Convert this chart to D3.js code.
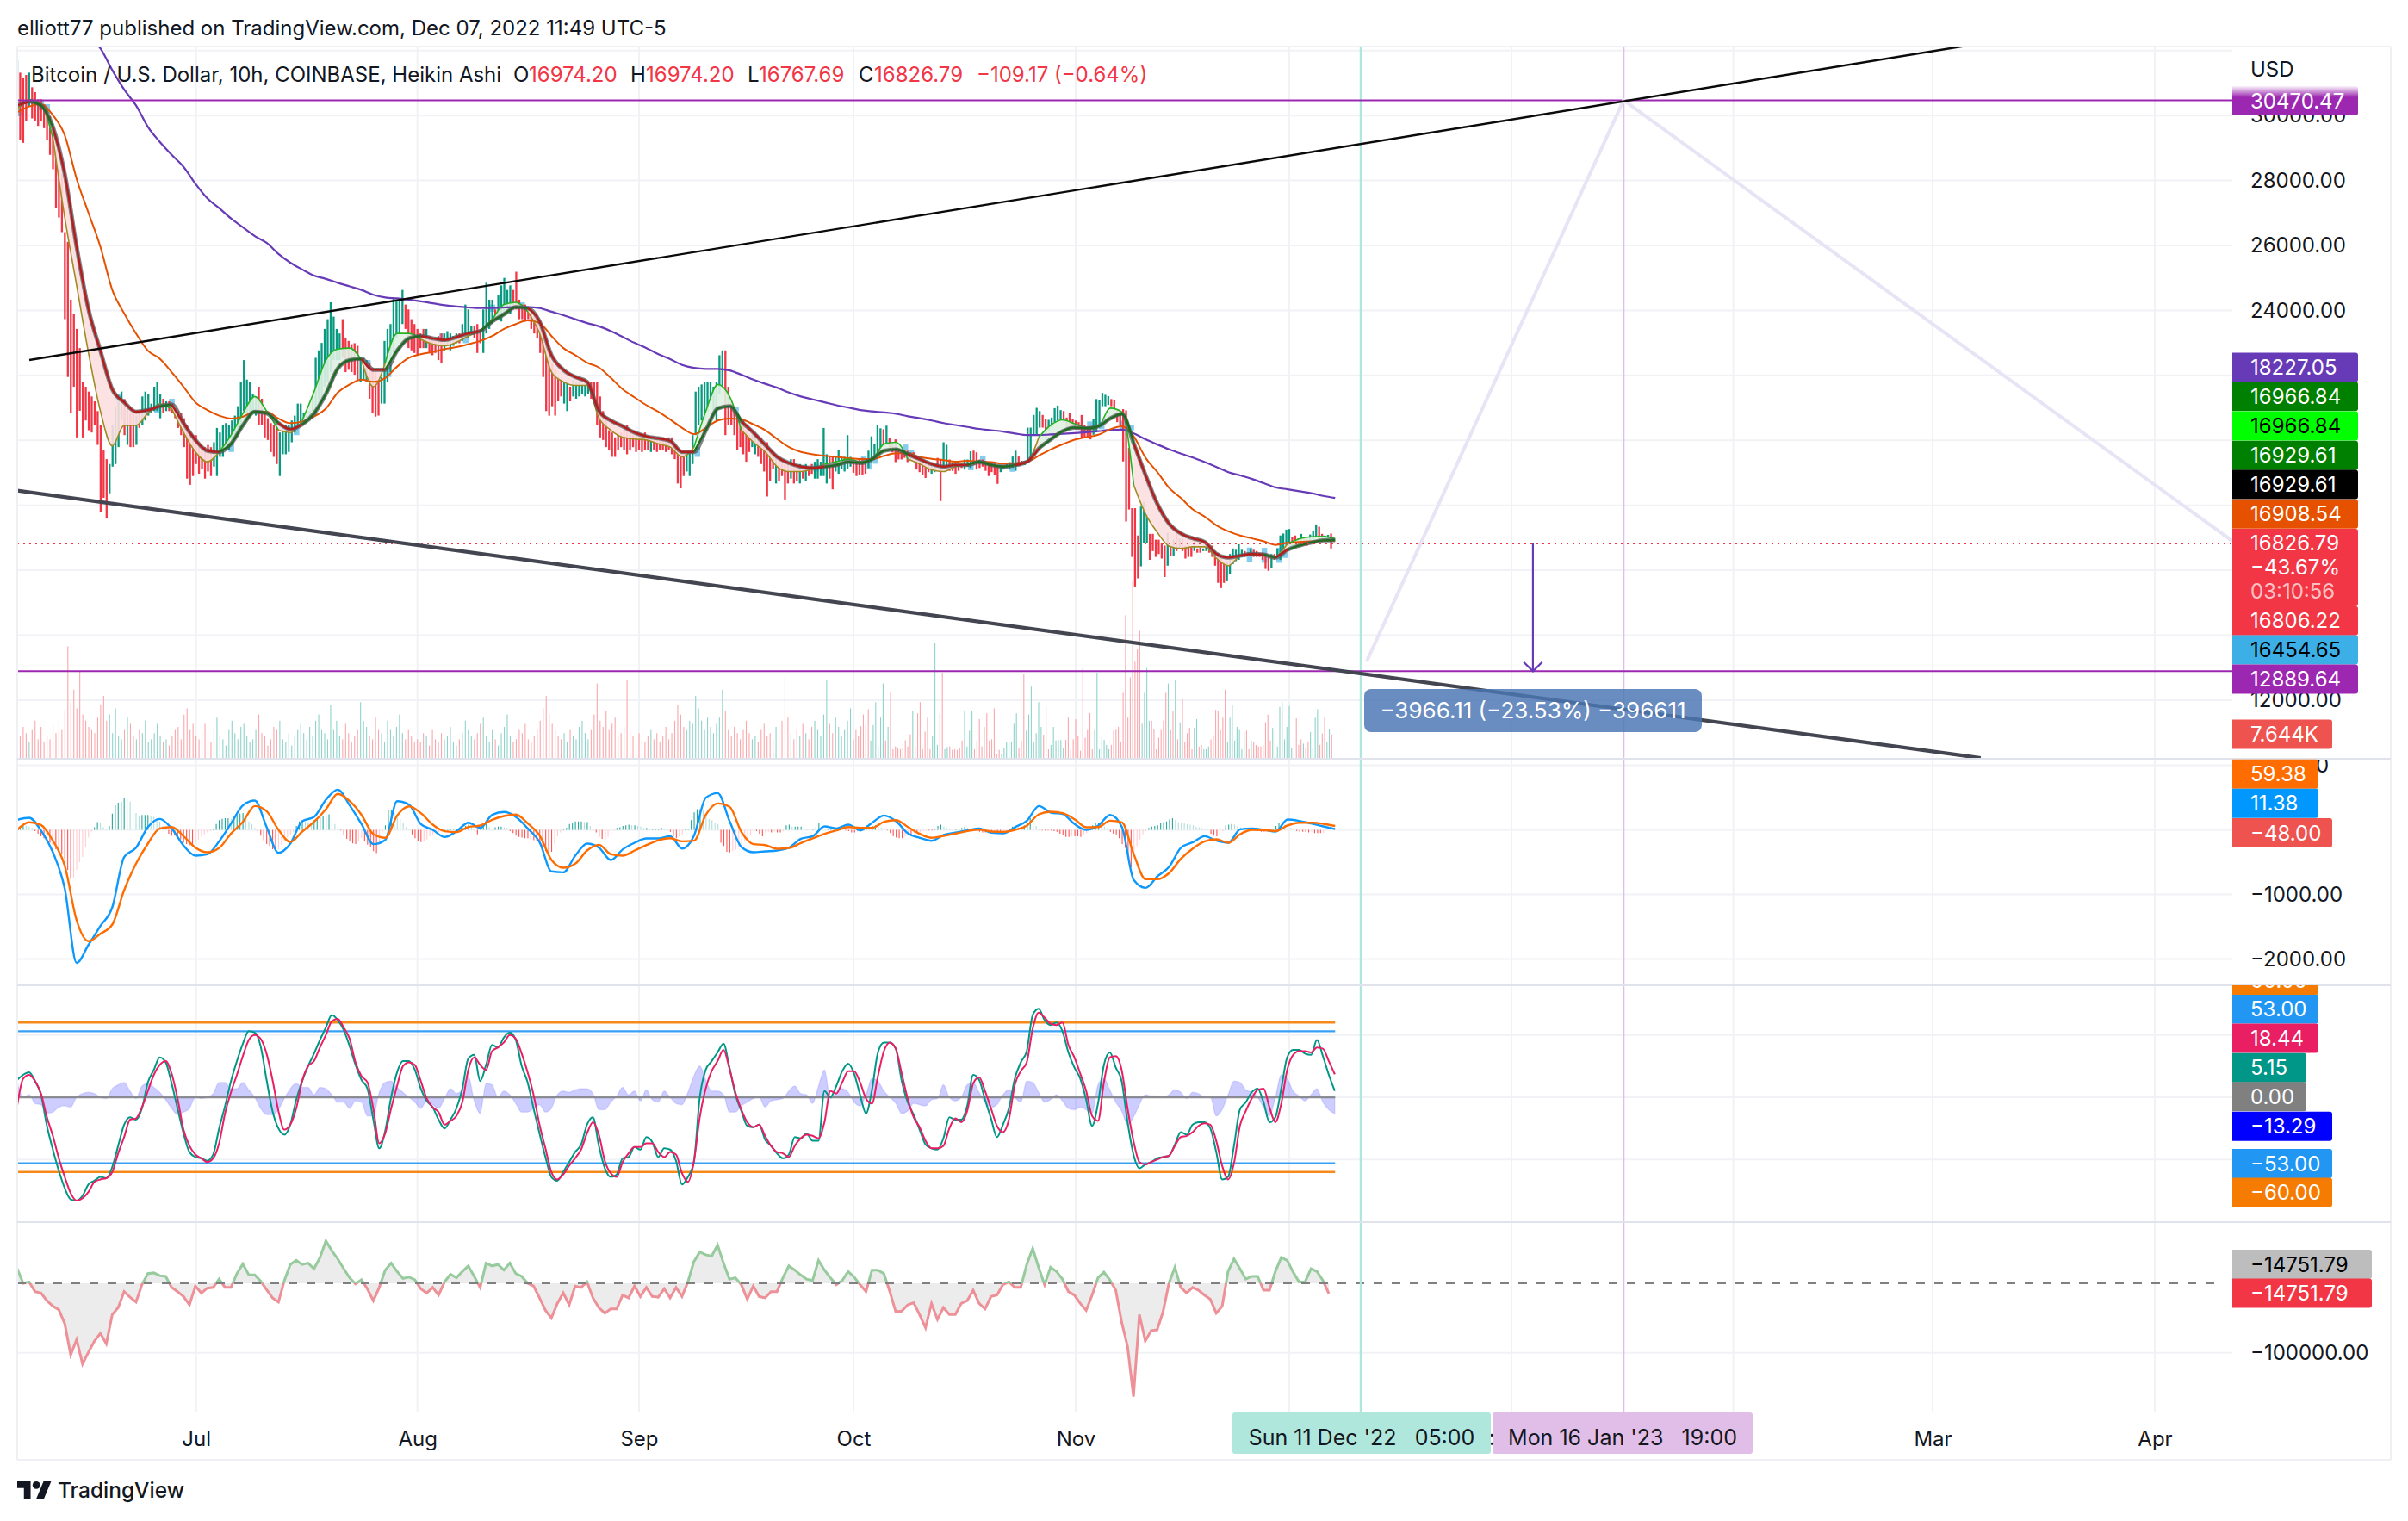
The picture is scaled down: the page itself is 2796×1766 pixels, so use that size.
<!DOCTYPE html>
<html><head><meta charset="utf-8">
<script src="https://cdn.jsdelivr.net/npm/d3@7/dist/d3.min.js"></script>
<style>
html,body{margin:0;padding:0;background:#fff}
svg{display:block}
text{font-family:Inter,"Noto Sans",sans-serif}
</style></head><body>
<svg id="c" width="2796" height="1766"></svg>
<script>
// ---------- Heikin Ashi bars, [open, close] in thousand USD, by month ----------
const barsJun=[[29.98,31.69],[31.32,29.24],[31.17,29.16],[31.25,29.83],[30.28,31.32],[30.87,29.91],[30.72,29.83],[30.5,29.68],[30.5,29.83],[30.35,29.61],[30.2,29.24],[29.98,28.79],[29.61,28.35],[28.94,27.15],[28.35,26.86],[28.2,26.41],[26.41,23.73],[26.11,21.95],[24.33,20.83],[23.88,21.65],[23.43,20.09],[22.84,20.91],[21.8,20.09],[21.65,20.61],[21.5,20.31],[21.35,20.24],[21.2,20.46],[20.9,19.86],[20.46,17.78],[19.71,18.23],[19.42,17.59],[18.37,19.27],[19.19,20.46],[19.27,21.05],[19.79,21.27],[20.61,21.5],[21.27,20.16],[19.86,21.05],[20.83,19.79],[20.9,19.79],[19.86,20.76],[20.9,20.38],[20.46,21.35],[20.61,21.5],[20.76,21.43],[20.83,21.13],[20.9,21.65],[20.9,21.8],[20.68,21.43],[21.28,20.83],[20.9,21.2],[21.2,20.9],[21.13,20.83],[20.98,20.68],[20.9,20.38],[20.83,20.16],[20.68,19.79],[20.46,18.82],[20.24,18.63],[20.16,18.9]];
const barsJul=[[20.16,19.27],[19.79,18.97],[19.71,19.12],[19.79,18.82],[19.86,19.04],[19.79,18.9],[19.19,19.94],[18.9,20.38],[19.49,20.24],[19.49,20.46],[19.79,20.53],[19.71,20.46],[19.86,20.61],[20.09,20.76],[20.31,21.05],[20.46,21.8],[20.9,22.47],[20.76,21.87],[20.76,21.8],[20.9,21.43],[20.76,21.35],[21.65,20.46],[21.28,20.46],[20.9,20.09],[20.68,20.01],[20.53,19.64],[20.46,19.49],[20.38,19.27],[18.9,20.24],[19.57,20.38],[19.57,20.46],[19.64,20.46],[19.94,20.61],[20.24,20.76],[20.38,21.13],[20.46,21.13],[20.61,20.83],[20.61,20.76],[20.61,20.9],[20.68,21.28],[20.76,22.54],[20.98,22.77],[21.2,23],[21.65,23.43],[21.8,23.73],[22.1,24.25],[22.47,23.81],[22.47,23.43],[22.47,23.29],[23.73,22.54],[23.14,22.1],[23.06,22.17],[22.96,22.1],[22.99,22.02],[22.91,21.87],[21.8,22.54],[21.87,22.54],[21.8,22.47],[22.39,21.28],[22.24,20.83],[22.1,20.73],[21.8,20.76],[21.13,21.95],[21.13,23.06],[21.8,23.43],[22.1,23.58],[22.69,24.4],[23.14,24.33],[23.29,24.33],[23.58,24.63],[24.18,23.43],[24.03,22.84],[23.73,22.77],[23.58,22.69]];
const barsAug=[[23.43,22.62],[23.29,22.84],[23.43,22.84],[22.84,23.43],[23.21,22.69],[23.14,22.62],[23.14,22.69],[23.21,22.47],[23.29,22.39],[22.77,23.29],[22.91,23.36],[22.77,23.29],[22.91,23.21],[22.99,23.29],[23.29,22.99],[23.06,23.58],[23.14,24.18],[23.14,24.03],[23.29,23.51],[23.51,23.14],[23.58,22.69],[23.43,22.99],[22.69,24.03],[23.29,24.85],[23.43,24.33],[23.58,24.33],[24.03,23.73],[23.73,24.48],[23.66,24.77],[23.88,25],[23.96,24.63],[23.88,24.77],[24.63,24.03],[25.19,24.03],[24.33,23.73],[24.18,23.73],[24.18,23.66],[24.03,23.73],[24.03,23.43],[23.88,23.29],[23.73,23.14],[23.58,22.69],[23.29,21.95],[23.14,20.9],[22.84,20.76],[22.39,21.05],[22.17,20.76],[21.95,21.2],[21.87,21.35],[21.13,21.8],[20.9,21.8],[21.65,21.2],[21.35,21.87],[21.28,21.8],[21.35,21.8],[21.43,21.72],[21.35,21.8],[21.43,21.8],[21.8,21.28],[21.8,21.35],[21.8,20.46],[21.35,20.09],[20.9,20.01],[20.61,19.79],[20.31,19.71],[20.24,19.49],[20.09,19.49],[20.24,19.71],[20.24,19.79],[20.38,19.71],[20.46,19.57],[20.24,19.71],[20.16,19.79],[20.24,19.64]];
const barsSep=[[20.16,19.71],[20.09,19.64],[20.24,19.71],[20.09,19.71],[19.64,20.09],[20.09,19.71],[20.09,19.64],[20.01,19.71],[20.09,19.71],[20.01,19.64],[20.09,19.71],[20.09,19.57],[19.86,19.42],[19.71,18.67],[19.57,18.52],[19.49,18.9],[19.04,19.57],[18.9,19.64],[19.27,20.16],[20.16,21.5],[20.46,21.65],[20.61,21.72],[20.68,21.8],[20.9,21.8],[21.2,21.8],[20.9,21.65],[20.61,21.8],[21.43,22.62],[21.65,22.77],[22.77,20.16],[21.65,20.46],[21.2,20.46],[20.98,20.16],[20.76,19.71],[20.68,19.79],[20.61,19.57],[20.31,19.34],[20.16,19.64],[19.79,20.16],[19.57,20.16],[20.09,19.49],[20.09,19.27],[19.86,19.04],[19.94,18.27],[19.71,18.75],[19.64,19.12],[18.67,19.49],[19.42,18.75],[19.42,18.9],[19.34,18.18],[19.34,18.67],[18.82,19.42],[19.42,18.67],[19.19,18.75],[18.67,19.27],[19.19,18.82],[18.75,19.27],[19.19,18.9],[19.27,18.97],[18.82,19.34],[18.82,19.42],[18.9,19.34],[18.9,20.38],[18.67,19.57],[19.49,18.82],[19.49,18.49],[19.04,19.49],[18.97,19.71],[19.12,19.49],[19.04,19.49],[19.12,20.16],[19.19,19.49]];
const barsOct=[[19.42,19],[19.34,18.9],[19.41,18.93],[19.46,18.93],[19.33,18.97],[19.15,19.68],[19.33,20.12],[19.46,19.9],[19.5,20.46],[19.68,20.37],[20.34,19.9],[19.86,20.45],[20.08,19.72],[19.9,19.63],[20.03,19.33],[19.77,19.41],[19.72,19.41],[19.68,19.46],[19.68,19.33],[19.37,19.63],[19.63,19.41],[19.5,19.1],[19.41,19.02],[19.37,18.93],[19.33,18.84],[19.33,19.02],[18.97,19.24],[19.02,19.19],[19.46,19.15],[19.41,18.13],[19.15,19.94],[19.15,19.86],[19.41,19.06],[19.33,19.06],[19.28,18.97],[19.28,19.06],[19.28,19.15],[19.1,19.41],[19.19,19.41],[19.15,19.66],[19.68,19.24],[19.63,19.1],[19.41,19.15],[19.41,19.19],[19.37,19.06],[19.33,18.9],[19.33,19.02],[19.28,18.93],[19.24,18.66],[19.02,19.24],[19.1,19.24],[19.15,19.28],[19.1,19.33],[19.15,19.5],[19.06,19.68],[19.5,19.24],[19.37,19.24],[19.24,19.37],[19.33,20.39],[19.41,20.39],[20.17,20.78],[20.17,21],[20.39,20.9],[20.78,20.39],[20.65,20.12],[20.3,20.63],[20.39,20.7],[20.56,20.99],[20.61,21.07],[20.61,20.93],[20.9,20.56],[20.7,20.39],[20.83,20.43],[20.65,20.47]];
const barsNov=[[20.61,20.34],[20.56,20.34],[20.78,20.08],[20.47,20.08],[20.43,20.08],[20.43,20.03],[20.17,20.65],[20.3,21.27],[20.47,21.23],[21.05,21.46],[21.05,21.4],[21.09,21.36],[21.27,21.05],[21.23,20.92],[20.96,20.56],[20.83,20.47],[20.96,19.35],[20.92,17.5],[19.77,17.87],[17.91,16.41],[17.91,15.5],[17.07,15.75],[16.12,17.96],[16.83,18.11],[16.83,17.73],[17.12,16.32],[17.12,16.59],[16.94,16.41],[16.94,16.5],[16.85,16.36],[16.76,15.79],[16.14,17.16],[16.76,16.45],[16.45,16.94],[17.12,16.59],[16.67,16.98],[16.98,16.59],[16.76,16.36],[16.76,16.41],[16.72,16.41],[16.59,16.98],[16.67,16.54],[16.69,16.54],[16.59,16.67],[16.59,16.8],[16.67,16.54],[16.76,16.41],[16.59,16.14],[16.54,15.61],[16.41,15.45],[16.23,15.61],[15.66,16.28],[15.88,16.5],[16.19,16.67],[16.28,16.63],[16.32,16.8],[16.41,16.63],[16.59,16.41],[16.54,16.45],[16.45,16.67],[16.63,16.41],[16.59,16.41],[16.54,16.41],[16.54,16.32],[16.5,16.04],[16.45,15.98],[16.07,16.5],[16.5,16.32],[16.41,16.67],[16.32,17.07],[16.5,17.13],[16.76,17.25]];
const barsDec=[[16.76,17.27],[17.03,16.76],[17.07,16.81],[16.98,16.76],[16.81,17.12],[17,16.76],[16.94,16.76],[16.85,17.1],[16.9,17.2],[17.03,17.41],[17.34,16.87],[17.12,16.87],[16.9,17.07],[16.9,17.09],[17.13,16.67]];
// ---------- Pale-blue wide bars ----------
const dojiIndex=[1,8,10,34,47,52,72,94,118,125,143,151,160,170,229,242,269,285,287,289,299,301,321,325,335,337,361,365,372,375,415,420,425,427];
const dojiHigh=[30.2,30.46,30.35,21.43,21.05,21.28,19.94,20.38,22.47,22.17,23.29,23.21,24.18,24.25,19.79,21.02,19.27,19.5,19.33,19.5,19.87,19.7,19.24,19.52,19.24,19.33,20.58,20.56,20.6,20.46,16.7,16.69,16.69,16.54];
const dojiLow=[29.98,30.16,30.06,21.2,20.83,20.98,19.64,20.16,22.17,21.95,23.06,22.99,23.96,24.03,19.49,20.76,19.04,19.24,19.1,19.28,19.68,19.5,19.08,19.37,19.03,19.19,20.32,20.34,20.34,20.3,16.25,16.23,16.23,16.38];
// ---------- Volume in K, by month ----------
const volJun=[9,7,10,8,5,9,12,6,10,5,7,6,11,8,12,9,15,36,18,22,16,28,14,12,10,9,8,13,17,20,12,14,8,16,7,6,9,13,11,7,6,9,8,12,5,6,8,11,7,5,6,4,7,9,10,6,14,16,9,11];
const volJul=[7,6,9,11,8,5,10,13,7,6,4,9,12,8,6,10,11,7,5,6,9,14,8,7,4,6,10,9,12,6,5,8,4,7,9,11,8,6,10,7,12,14,9,8,6,17,9,12,7,6,11,8,5,7,9,18,12,10,7,6,13,9,8,5,12,9,7,10,14,8,6,9,7,5];
const volAug=[6,5,8,7,4,9,6,5,8,6,7,10,5,4,6,8,12,9,7,6,8,11,13,7,5,9,6,4,8,10,14,7,5,6,9,8,11,6,5,7,9,12,16,20,14,11,9,7,6,8,5,9,7,6,10,12,8,6,9,14,24,12,10,15,9,11,13,7,8,10,25,9,7,5];
const volSep=[8,6,5,7,9,6,8,5,7,10,6,8,12,17,14,10,9,12,11,20,16,12,9,13,10,8,11,13,22,15,9,7,10,8,6,9,12,8,6,7,5,9,11,7,8,6,10,9,12,26,13,8,6,9,7,11,8,6,10,12,9,7,14,25,11,8,13,10,7,9,12,16];
const volOct=[6,9,7,10.2,14,10.6,15.7,5.6,10.6,18,3.7,13,24,5.6,10,21,2.8,3.7,3.2,2.8,3.2,5.7,3.7,7.6,15,3.7,14.4,18,2.8,8.5,13,2.8,7,37,4.2,14.4,27.5,2.8,3.5,3.7,2.6,2.8,2.6,3.2,5.6,15,3.7,8.8,15,2.8,5.6,12.5,3.7,10,14.4,5.6,6,16,1.4,2.6,1.4,3.2,5,5.3,5,11,14.4,3.2,5.6,27,8.8,14,23,5,8,18,10,7.5,16.5,2.8,4.2,10,5.6,5.8,5.8,3.2,5.8,13,2.8,6];
const volNov=[12.5,7,2.3,29,6.5,9,14.5,2.8,9,27.5,2.8,6.7,5.8,4.2,2.8,4.2,8.8,9.1,10,5,21,46,13,26,57,31,35,41,11,21,29,12,12,9.3,2.8,6.5,9,12,21,24,9,15,25,6,11.5,19,5,8,9.7,2.8,9.7,12.5,3.7,4.2,2.8,2.8,3.7,6,7.4,15.5,15,9,13,22,5,13,17,5.6,10,9,2.8,8.3,8.8,2.8,5.6,5,4.2,3.7,3.7,4.2,11.5,14,5.6,9.7,8.8,3.7,16.5,18,6,10];
const volDec=[16.7,3.2,6,12.8,4.2,6,4.6,3.2,5,8.3,3.2,13,15.7,4.2,7.9,13,5,9.4,7.644];
// ---------- Moving averages in thousand USD, one reading per 40 hours ----------
const emaSlow=[null,null,null,null,null,32.96,32.44,32.07,31.4,30.8,30.31,29.65,29.19,28.79,28.42,27.9,27.45,27.15,26.83,26.56,26.29,26.08,25.74,25.47,25.26,25.07,24.97,24.85,24.74,24.63,24.48,24.4,24.37,24.33,24.28,24.22,24.16,24.12,24.09,24.07,24.07,24.09,24.1,24.1,24.07,23.96,23.85,23.73,23.61,23.51,23.36,23.18,23,22.84,22.65,22.5,22.32,22.23,22.2,22.2,22.15,22.02,21.87,21.74,21.62,21.47,21.35,21.26,21.17,21.08,21.01,20.93,20.89,20.86,20.82,20.74,20.68,20.61,20.53,20.47,20.41,20.35,20.31,20.27,20.21,20.16,20.16,20.18,20.2,20.22,20.25,20.28,20.32,20.33,20.21,20.03,19.87,19.72,19.59,19.47,19.33,19.18,19.02,18.92,18.81,18.68,18.55,18.49,18.43,18.37,18.29,18.227];
const emaMid=[30.1,30.28,30.35,30.01,29.39,28.05,27,25.96,24.63,23.91,23.29,22.76,22.51,22.1,21.65,21.17,20.93,20.76,20.67,20.73,20.88,20.88,20.67,20.53,20.58,20.73,20.98,21.47,21.72,21.87,21.8,21.92,22.27,22.54,22.65,22.72,22.81,22.87,22.96,23.06,23.21,23.43,23.58,23.69,23.61,23.21,22.84,22.62,22.39,22.24,21.92,21.57,21.32,21.08,20.88,20.64,20.38,20.19,20.38,20.61,20.67,20.64,20.49,20.31,20.04,19.79,19.64,19.57,19.52,19.49,19.45,19.42,19.42,19.52,19.6,19.6,19.49,19.43,19.39,19.34,19.37,19.34,19.33,19.28,19.3,19.33,19.53,19.72,19.88,20.02,20.1,20.17,20.34,20.43,20.12,19.46,19.02,18.53,18.22,17.87,17.65,17.38,17.2,17.07,16.98,16.89,16.78,16.85,16.87,16.89,16.91,16.908];
const emaThick=[30.31,30.43,30.31,29.65,28.2,25.96,24.03,22.76,21.57,21.17,20.88,20.93,21.05,21.1,20.53,20.01,19.68,19.64,19.89,20.46,20.88,20.83,20.53,20.34,20.49,20.83,21.43,22.21,22.47,22.51,22.17,22.17,22.76,23.14,23.21,23.14,23.09,23.18,23.29,23.36,23.66,23.88,24.1,24.07,23.66,22.62,22.17,21.95,21.8,20.9,20.61,20.43,20.24,20.12,20.06,19.98,19.64,19.64,20.31,20.98,21.05,20.58,20.24,19.86,19.49,19.3,19.19,19.15,19.19,19.24,19.34,19.3,19.42,19.68,19.72,19.57,19.42,19.27,19.19,19.24,19.24,19.33,19.24,19.19,19.24,19.34,19.75,20.03,20.28,20.39,20.37,20.43,20.67,20.81,19.9,18.93,18.04,17.43,17.13,16.98,16.87,16.5,16.39,16.45,16.5,16.48,16.39,16.63,16.76,16.85,16.92,16.93];
const emaFast=[30.2,30.5,30.35,29.31,26.86,24.77,22.69,20.9,19.83,20.46,20.46,20.83,21.13,20.98,20.24,19.64,19.34,19.64,20.16,20.83,21.35,20.9,20.31,20.24,20.61,21.5,22.47,22.81,22.84,22.47,21.65,22.39,23.29,23.29,23.11,22.96,22.91,23.02,23.21,23.36,23.73,24.18,24.25,23.96,23.29,22.1,21.8,21.69,21.69,20.68,20.31,20.09,20.04,20.01,19.89,19.79,19.49,19.79,20.9,21.72,21.35,20.31,19.94,19.64,19.19,19.04,19.04,19.12,19.27,19.34,19.42,19.34,19.42,19.89,19.94,19.42,19.27,19.09,19.04,19.19,19.24,19.37,19.25,19.19,19.22,19.33,20.1,20.47,20.63,20.51,20.39,20.43,20.99,20.87,18.62,17.73,17.16,16.74,16.67,16.72,16.72,16.36,16.14,16.43,16.47,16.5,16.36,16.81,16.97,17.03,17.04,16.967];
// ---------- MACD, one reading per 40 hours ----------
const macdLine=[155,187,-9,-347,-911,-2060,-1780,-1489,-1200,-422,-276,44,169,22,-244,-400,-378,-178,98,378,453,44,-356,-213,133,200,467,622,378,89,-222,-156,444,391,89,0,-111,-22,111,31,231,276,200,22,-191,-644,-658,-400,-213,-276,-467,-302,-200,-133,-133,-98,-289,-89,498,569,133,-267,-347,-333,-320,-276,-138,-98,53,22,80,-9,111,222,133,-53,-124,-169,-80,-44,-9,22,-44,-53,44,142,369,267,244,89,0,67,231,44,-778,-898,-720,-569,-276,-191,-98,-169,-200,9,22,0,-27,160,138,98,53,11.38];
const macdSignal=[0,116,76,-169,-556,-1400,-1724,-1609,-1467,-933,-524,-213,22,44,-98,-276,-347,-280,-58,124,369,289,0,-187,-27,124,320,556,444,231,-67,-124,222,364,258,80,-22,-36,44,67,155,213,236,98,-89,-467,-587,-524,-320,-231,-378,-400,-320,-236,-160,-129,-178,-169,236,409,356,-36,-222,-236,-293,-280,-204,-133,-62,-9,44,31,31,124,151,44,-62,-124,-93,-58,-18,4,-27,-31,0,67,240,280,258,164,40,44,142,116,-378,-764,-764,-667,-444,-289,-178,-147,-200,-67,0,-4,-18,67,111,111,93,59.38];
// ---------- MACD histogram, one reading per 10 hours ----------
const macdHist=[40,60,70,65,50,30,-20,-60,-100,-130,-160,-200,-230,-300,-340,-370,-450,-620,-760,-750,-620,-500,-420,-260,-120,-30,40,120,100,40,20,60,250,380,420,440,500,480,440,350,260,220,230,230,230,220,200,170,130,60,10,-60,-90,-90,-130,-150,-200,-220,-240,-240,-190,-150,-100,-70,-40,-20,20,90,150,170,180,180,170,200,230,250,260,200,130,90,30,-20,-90,-160,-220,-250,-300,-310,-300,-240,-180,-120,-80,-40,60,130,140,130,120,110,150,170,200,220,230,240,230,90,30,-10,-80,-140,-170,-210,-220,-180,-130,-170,-230,-260,-330,-360,-200,-40,70,300,300,260,240,170,100,40,10,-70,-130,-170,-190,-170,-150,-100,-70,-50,-30,-20,10,10,10,20,20,20,30,60,80,60,20,-70,30,100,130,40,20,40,50,50,40,30,-20,-50,-90,-110,-120,-130,-130,-150,-160,-180,-210,-270,-330,-340,-340,-230,-100,-40,10,30,90,110,130,130,130,120,120,60,10,-40,-110,-140,-150,-110,-50,-10,30,40,60,70,80,70,70,60,50,30,30,20,20,20,20,30,20,10,-30,-100,-130,-100,-70,10,20,150,270,320,320,310,250,170,150,110,90,-200,-250,-340,-350,-330,-310,-260,-240,-170,-130,-90,-10,-20,-60,-100,-40,-30,-40,-30,-40,-40,-20,70,80,50,50,50,50,40,20,10,10,40,110,60,20,20,20,20,20,20,10,-10,-20,-40,-40,-30,-20,30,70,50,60,70,50,30,10,-10,-50,-100,-120,-130,-130,-100,-70,-70,-50,-50,-40,-20,-10,-10,-10,20,60,80,50,30,20,10,10,20,30,50,30,20,10,-10,-30,-40,-40,-40,-40,-30,-30,-30,-20,-10,20,50,50,40,50,70,100,180,100,60,10,-10,-10,-10,-10,-20,-30,-60,-80,-110,-110,-100,-100,-100,-110,-80,-50,10,70,100,100,70,50,30,-30,-60,-70,-130,-220,-280,-380,-580,-420,-250,-150,-70,-20,30,50,60,70,100,120,130,160,180,150,120,110,100,90,80,70,50,40,30,20,10,-60,-90,-100,-80,-20,70,80,90,80,60,40,30,20,20,10,-10,-20,-30,-30,-20,-10,10,60,100,100,80,50,30,10,-20,-30,-30,-30,-40,-30,-50,-50,-50,-48];
// ---------- Stochastic and momentum, one reading per 20 hours ----------
const stochK=[14,18,20,13,2,-23,-42,-59,-73,-82,-83,-79,-70,-67,-64,-65,-56,-39,-22,-16,-18,-9,12,22,32,28,11,-9,-29,-44,-48,-49,-51,-46,-25,-7,13,29,43,53,52,41,14,-11,-25,-30,-22,-2,13,25,35,46,56,66,62,54,41,26,14,7,-18,-41,-27,0,20,29,29,22,7,-3,-8,-18,-25,-18,-9,7,31,34,13,26,42,40,48,52,46,25,12,-9,-29,-48,-64,-67,-60,-52,-44,-38,-22,-16,-39,-57,-64,-62,-49,-48,-40,-42,-32,-36,-48,-41,-42,-51,-70,-64,-52,0,22,29,36,43,24,2,-11,-23,-24,-22,-34,-39,-45,-49,-46,-32,-33,-29,-35,-35,5,0,9,21,27,19,2,-13,6,36,44,44,39,13,-4,-14,-26,-38,-41,-42,-33,-16,-18,-18,-7,18,14,-2,-17,-32,-22,-9,15,28,37,66,71,62,58,60,53,36,24,15,-2,-23,-5,26,36,24,13,-20,-46,-57,-54,-52,-49,-48,-47,-38,-28,-30,-22,-20,-20,-25,-44,-66,-64,-39,-10,-4,4,7,-4,-20,-16,7,32,38,38,35,34,46,33,18,5.15];
const stochD=[-6.5,15,18,13,3,-16,-31,-49,-64,-77,-83,-81,-76,-68,-66,-65,-60,-45,-32,-18,-17,-8,5,18,26,29,19,-1,-26,-39,-46,-49,-52,-49,-37,-13,4,18,33,46,50,47,35,14,-11,-26,-22,-9,13,25,29,40,50,61,63,56,47,28,17,12,-9,-37,-29,-9,9,25,28,26,13,-1,-8,-12,-22,-19,-15,-4,22,32,26,22,37,40,44,50,47,35,20,2,-22,-41,-60,-66,-62,-55,-49,-42,-29,-20,-30,-51,-61,-64,-52,-45,-40,-40,-37,-37,-44,-48,-44,-46,-61,-68,-52,-16,7,21,29,38,23,4,-10,-20,-24,-22,-31,-39,-44,-45,-48,-39,-33,-30,-31,-33,-20,5,3,12,21,21,12,-1,-5,17,37,44,39,19,-1,-16,-24,-35,-41,-41,-39,-25,-17,-20,-11,11,16,5,-9,-23,-28,-18,10,21,28,55,68,64,59,58,60,42,32,19,5,-15,-19,12,32,33,22,-9,-35,-52,-54,-52,-50,-48,-47,-39,-32,-31,-28,-23,-21,-22,-35,-55,-66,-53,-23,-11,-1,6,7,-8,-20,-5,22,34,37,37,36,40,39,29,18.44];
const momentum=[12,0,2,-5,-6,-13,-12,-8,-7,-8,0,3,4,3,0,-1,7,10,12,5,-1,9,11,8,4,-2,-9,-14,-12,-9,0,-1,0,3,12,12,7,7,12,6,0,-9,-14,-14,-10,-1,7,11,8,8,2,8,7,2,-4,-4,-9,-3,-4,-15,-15,4,12,13,8,4,0,-4,-9,-3,-6,-9,-1,7,3,6,17,-3,-13,11,10,0,5,2,-5,-12,-12,-9,-6,-12,-9,2,5,4,6,7,7,3,-10,-10,-4,1,8,2,5,-3,6,-2,-4,5,0,-5,-6,4,17,25,14,5,5,2,-12,-12,-7,-4,-1,0,-8,-3,-2,-1,5,9,3,2,-5,9,22,-1,4,7,4,-4,-7,2,15,13,5,0,-5,-13,-11,-5,-6,-7,-2,-1,10,0,-3,0,10,12,4,-4,-8,-6,2,6,0,-4,13,12,4,-4,-2,2,-3,-9,-10,-8,-10,-13,10,15,6,-4,-11,-22,-16,-6,2,1,1,0,2,6,4,-1,4,3,0,0,-15,-10,2,13,12,6,4,0,-8,-15,0,18,15,5,1,-3,2,7,-4,-10,-13.29];
// ---------- Bottom oscillator in thousands, one reading per 20 hours ----------
const flowLine=[21,0,2,-12,-14,-25,-33,-38,-58,-103,-81,-116,-99,-83,-72,-87,-45,-35,-12,-20,-27,-2,14,15,11,10,-6,-12,-19,-31,-4,-14,-7,-6,6,-6,-6,14,28,12,12,3,-9,-21,-27,4,27,33,27,29,21,37,61,47,35,21,8,-1,5,-8,-25,-6,19,29,17,7,9,5,-8,-14,-6,-17,2,13,8,17,25,10,-6,29,25,27,19,29,14,10,0,-4,-21,-39,-50,-29,-14,-31,-4,-6,2,-21,-35,-43,-37,-37,-17,-21,-4,-19,-6,-19,-20,-8,-21,-6,-19,2,31,45,41,39,55,29,6,8,-2,-23,-4,-19,-21,-12,-12,8,25,19,12,6,4,33,19,8,-2,4,17,9,-2,-12,19,19,14,-12,-41,-40,-31,-28,-45,-64,-29,-52,-35,-45,-45,-29,-25,-10,-29,-37,-19,-17,-2,2,-6,-6,27,50,23,-2,23,17,6,-12,-17,-29,-39,-17,8,16,5,-10,-56,-91,-163,-45,-83,-68,-67,-41,0,23,-6,-14,-6,-10,-17,-23,-43,-33,17,35,21,6,10,10,-10,-10,17,37,33,16,2,2,21,17,4,-14.75];
// ---------- Axis ticks, price levels, annotations ----------
const priceTicks=[32000,30000,28000,26000,24000,22000,20000,18000,16000,14000,12000];
const priceTickLabels=[30000,28000,26000,24000,12000];
const macdTicks=[1000,0,-1000,-2000];
const macdTickLabels=[1000,-1000,-2000];
const stochTicks=[50,0,-50];
const flowTicks=[-100000];
const monthDates=['2022-07-01','2022-08-01','2022-09-01','2022-10-01','2022-11-01','2022-12-01','2023-01-01','2023-02-01','2023-03-01','2023-04-01'];
const monthLabels=['Jul','Aug','Sep','Oct','Nov','Mar','Apr'];
const levelHigh=30470.47, levelLow=12889.64, lastClose=16826.79;
const risingTrend=[['2022-06-07T16:30Z',22472],['2023-03-05T05:00Z',32133]];
const fallingTrend=[['2022-06-06T00:00Z',18451],['2023-03-07T17:00Z',10218]];
const projection=[['2022-12-11T19:00Z',13188],['2023-01-16T16:00Z',30470.47],['2023-04-11T20:00Z',16902]];
const arrowDate='2023-01-04T00:00Z';
const markerTeal='2022-12-10T23:00Z', markerLilac='2023-01-16T16:00Z';

const UP='#089981', DOWN='#f23645', GRID='#f1f2f5', SEP='#e0e3eb';
const PL=20, PR=2592, AR=2776, TOP=54, P1=881, P2=1144, P3=1419, TB=1640, BOT=1695;
const svg=d3.select('#c');
const defs=svg.append('defs');
function clip(id,x,y,w,h){defs.append('clipPath').attr('id',id).append('rect').attr('x',x).attr('y',y).attr('width',w).attr('height',h);}

// ---------- Scales ----------
const x=d3.scaleUtc()
  .domain(['2022-06-06','2022-07-01','2022-08-01','2022-09-01','2022-10-01','2022-11-01','2022-12-01','2023-01-01','2023-02-01','2023-03-01','2023-04-01','2023-04-11T20:00'].map(d=>new Date(d+(d.length==10?'T00:00Z':'Z'))))
  .range([20,227.6,484.7,742,991,1249,1497,1755,2012.6,2244,2502,2592]);
const yP=d3.scaleLinear().domain([24000,12000]).range([360.4,812.9]);
const yV=d3.scaleLinear().domain([0,10]).range([880,844]);
const yM=d3.scaleLinear().domain([0,-1000]).range([963.5,1038.5]);
const yS=d3.scaleLinear().domain([0,50]).range([1274,1201.7]);
const yF=d3.scaleLinear().domain([0,-100000]).range([1490,1570.7]);
const T0=Date.UTC(2022,5,6);
const HOUR=3600e3;
const tGrid=k=>new Date(T0+k*39.87*HOUR);
const tHalf=h=>new Date(T0+h*19.93*HOUR);
const tBar=i=>new Date(T0+i*9.97*HOUR);
const pk=v=>yP(v*1000);

clip('cpP',PL,TOP,PR-PL,P1-TOP-1);
clip('cpAll',PL,TOP,PR-PL,TB-TOP);
clip('cpAbove',PL,P3,PR-PL,yF(0)-P3);
clip('cpBelow',PL,yF(0),PR-PL,TB-yF(0));
clip('cpAxis',PR,TOP,AR-PR,BOT-TOP);
clip('cpS',PR,P2,AR-PR,P3-P2);
clip('cpM',PR,P1+1,AR-PR,P2-P1-1);

// ---------- Grid ----------
const grid=svg.append('g').attr('stroke',GRID).attr('stroke-width',2);
grid.selectAll('.v').data(monthDates).join('line').attr('x1',d=>x(new Date(d+'T00:00Z'))).attr('x2',d=>x(new Date(d+'T00:00Z'))).attr('y1',TOP).attr('y2',TB);
function hgrid(ticks,sc){grid.append('g').selectAll('line').data(ticks).join('line').attr('x1',PL).attr('x2',PR).attr('y1',d=>sc(d)).attr('y2',d=>sc(d));}
hgrid(priceTicks,yP);hgrid(macdTicks,yM);hgrid(stochTicks,yS);hgrid(flowTicks,yF);

// ---------- Price pane ----------
const pane=svg.append('g').attr('clip-path','url(#cpP)');
const months=[
 ['2022-06-06T00:00Z','2022-07-01T00:00Z',barsJun,volJun],
 ['2022-07-01T00:00Z','2022-08-01T00:00Z',barsJul,volJul],
 ['2022-08-01T00:00Z','2022-09-01T00:00Z',barsAug,volAug],
 ['2022-09-01T00:00Z','2022-10-01T00:00Z',barsSep,volSep],
 ['2022-10-01T00:00Z','2022-11-01T00:00Z',barsOct,volOct],
 ['2022-11-01T00:00Z','2022-12-01T00:00Z',barsNov,volNov],
 ['2022-12-01T00:00Z','2022-12-07T06:00Z',barsDec,volDec]];
months.forEach(([s,e,bars,vols])=>{
  const a=+new Date(s),b=+new Date(e);
  const vg=pane.append('g');
  vols.forEach((v,j)=>{
    const bar=bars[Math.min(bars.length-1,Math.floor(j*bars.length/vols.length))];
    vg.append('rect').attr('x',x(new Date(a+j*(b-a)/vols.length))-.55).attr('width',1.1)
      .attr('y',yV(v)).attr('height',yV(0)-yV(v)).attr('fill',bar[1]>=bar[0]?'#8fd3ca':'#f9a8ad');
  });
});
pane.append('g').selectAll('rect').data(dojiIndex).join('rect')
  .attr('x',d=>x(tBar(d))-3).attr('width',6.5)
  .attr('y',(d,i)=>pk(dojiHigh[i])).attr('height',(d,i)=>pk(dojiLow[i])-pk(dojiHigh[i]))
  .attr('fill','#85cdee');
months.forEach(([s,e,bars])=>{
  const a=+new Date(s),b=+new Date(e);
  pane.append('g').selectAll('rect').data(bars).join('rect')
    .attr('x',(d,j)=>x(new Date(a+j*(b-a)/bars.length))-1.15).attr('width',2.3)
    .attr('y',d=>pk(Math.max(d[0],d[1]))).attr('height',d=>Math.abs(pk(d[0])-pk(d[1])))
    .attr('fill',d=>d[1]>=d[0]?UP:DOWN);
});
// runs of fast above / below thick
const idx=d3.range(emaThick.length);
const runs=[];let cur=null;
idx.forEach(i=>{const up=emaFast[i]>=emaThick[i];
  if(!cur||cur.up!==up){if(cur)cur.pts.push(i);cur={up,pts:[i]};runs.push(cur);} else cur.pts.push(i);});
const ln=(arr,sc)=>d3.line().defined(i=>arr[i]!=null).x(i=>x(tGrid(i))).y(i=>sc(arr[i])).curve(d3.curveMonotoneX);
const areaBetween=d3.area().x(i=>x(tGrid(i))).y0(i=>pk(emaThick[i])).y1(i=>pk(emaFast[i])).curve(d3.curveMonotoneX);
runs.forEach(r=>{pane.append('path').attr('d',areaBetween(r.pts)).attr('fill',r.up?'#dff1e2':'#fddfe0').attr('fill-opacity',.9);});
pane.append('path').attr('d',ln(emaSlow,pk)(idx)).attr('fill','none').attr('stroke','#673ab7').attr('stroke-width',2.2);
pane.append('path').attr('d',ln(emaMid,pk)(idx)).attr('fill','none').attr('stroke','#e65100').attr('stroke-width',2);
runs.forEach(r=>{pane.append('path').attr('d',ln(emaFast,pk)(r.pts)).attr('fill','none').attr('stroke',r.up?'#22b322':'#a08a22').attr('stroke-width',1.6);});
pane.append('path').attr('d',ln(emaThick,pk)(idx)).attr('fill','none').attr('stroke','#555a5e').attr('stroke-opacity',.75).attr('stroke-width',4.8);
runs.forEach(r=>{pane.append('path').attr('d',ln(emaThick,pk)(r.pts)).attr('fill','none').attr('stroke',r.up?'#1e6b22':'#b71c1c').attr('stroke-width',2.4);});

// ---------- MACD pane ----------
svg.append('g').selectAll('rect').data(macdHist).join('rect')
  .attr('x',(d,i)=>x(tBar(i))-.55).attr('width',1.1)
  .attr('y',d=>Math.min(yM(d),yM(0))).attr('height',d=>Math.abs(yM(d)-yM(0)))
  .attr('fill',(d,i)=>{const p=i?macdHist[i-1]:0;return d>=0?(d>=p?'#26a69a':'#b2dfdb'):(d<=p?'#ff5252':'#ffcdd2');});
svg.append('path').attr('d',ln(macdLine,yM)(d3.range(macdLine.length))).attr('fill','none').attr('stroke','#0e98fb').attr('stroke-width',2.4);
svg.append('path').attr('d',ln(macdSignal,yM)(d3.range(macdSignal.length))).attr('fill','none').attr('stroke','#ff6d00').attr('stroke-width',2.4);

// ---------- Stochastic pane ----------
const xEnd=x(tGrid(111));
[[60,'#f57c00'],[53,'#2196f3'],[-53,'#2196f3'],[-60,'#f57c00']].forEach(([v,c])=>{
  svg.append('line').attr('x1',PL).attr('x2',xEnd).attr('y1',yS(v)).attr('y2',yS(v)).attr('stroke',c).attr('stroke-width',2.4).attr('stroke-opacity',.9);
});
const halfLine=(arr,sc,curve)=>d3.line().x(h=>x(tHalf(h))).y(h=>sc(arr[h])).curve(curve||d3.curveMonotoneX)(d3.range(arr.length));
svg.append('path').attr('d',d3.area().x(h=>x(tHalf(h))).y0(yS(0)).y1(h=>yS(momentum[h])).curve(d3.curveMonotoneX)(d3.range(momentum.length)))
  .attr('fill','#3030ff').attr('fill-opacity',.24).attr('stroke','#3030ff').attr('stroke-opacity',.12).attr('stroke-width',1.5);
svg.append('line').attr('x1',PL).attr('x2',xEnd).attr('y1',yS(0)).attr('y2',yS(0)).attr('stroke','#808080').attr('stroke-width',2.6).attr('stroke-opacity',.85);
svg.append('path').attr('d',halfLine(stochK,yS)).attr('fill','none').attr('stroke','#009688').attr('stroke-width',2);
svg.append('path').attr('d',halfLine(stochD,yS)).attr('fill','none').attr('stroke','#e91e63').attr('stroke-width',2);

// ---------- Bottom pane ----------
const yFk=v=>yF(v*1000);
svg.append('path').attr('d',d3.area().x(h=>x(tHalf(h))).y0(yF(0)).y1(h=>yFk(flowLine[h]))(d3.range(flowLine.length))).attr('fill','#ececec');
svg.append('g').attr('clip-path','url(#cpAbove)').append('path').attr('d',halfLine(flowLine,yFk,d3.curveLinear)).attr('fill','none').attr('stroke','#97cb9d').attr('stroke-width',3);
svg.append('g').attr('clip-path','url(#cpBelow)').append('path').attr('d',halfLine(flowLine,yFk,d3.curveLinear)).attr('fill','none').attr('stroke','#ee9097').attr('stroke-width',3);
svg.append('line').attr('x1',PL).attr('x2',2582).attr('y1',yF(0)).attr('y2',yF(0)).attr('stroke','#808080').attr('stroke-width',2.2).attr('stroke-dasharray','10 11');

// ---------- Markers and drawings ----------
const when=d=>new Date(d);
const over=svg.append('g').attr('clip-path','url(#cpAll)');
over.append('line').attr('x1',x(when(markerTeal))).attr('x2',x(when(markerTeal))).attr('y1',TOP).attr('y2',TB).attr('stroke','#afe7dd').attr('stroke-width',2.2);
over.append('line').attr('x1',x(when(markerLilac))).attr('x2',x(when(markerLilac))).attr('y1',TOP).attr('y2',TB).attr('stroke','#e1bee7').attr('stroke-width',2.2);
const pLine=d3.line().x(d=>x(when(d[0]))).y(d=>yP(d[1]));
const pg=svg.append('g').attr('clip-path','url(#cpP)');
[levelHigh,levelLow].forEach(v=>pg.append('line').attr('x1',PL).attr('x2',PR).attr('y1',yP(v)).attr('y2',yP(v)).attr('stroke','#9c27b0').attr('stroke-width',2));
pg.append('line').attr('x1',PL).attr('x2',PR).attr('y1',yP(lastClose)).attr('y2',yP(lastClose)).attr('stroke',DOWN).attr('stroke-width',2).attr('stroke-dasharray','2 5');
pg.append('path').attr('d',pLine(projection)).attr('fill','none').attr('stroke','#e8e4f5').attr('stroke-width',4);
pg.append('path').attr('d',pLine(risingTrend)).attr('fill','none').attr('stroke','#0a0a0a').attr('stroke-width',2.4);
pg.append('path').attr('d',pLine(fallingTrend)).attr('fill','none').attr('stroke','#434651').attr('stroke-width',4.2);
const ax=x(when(arrowDate));
pg.append('path').attr('d',`M${ax},${yP(lastClose)}V${yP(levelLow)}`).attr('stroke','#673ab7').attr('stroke-width',2.2).attr('fill','none');
pg.append('path').attr('d',`M${ax-10.7},${yP(levelLow)-10.7}L${ax},${yP(levelLow)}L${ax+10.7},${yP(levelLow)-10.7}`).attr('stroke','#673ab7').attr('stroke-width',2.2).attr('fill','none');
svg.append('rect').attr('x',1584).attr('y',800).attr('width',392).attr('height',50).attr('rx',8).attr('fill','#4a76b3').attr('fill-opacity',.83);
svg.append('text').attr('x',1780).attr('y',825).attr('dy','.36em').attr('text-anchor','middle').attr('fill','#fff').attr('font-size',26).text('−3966.11 (−23.53%) −396611');

// ---------- Frame ----------
const frame=svg.append('g').attr('stroke','#eef0f4').attr('stroke-width',2);
frame.append('line').attr('x1',PL).attr('x2',PL).attr('y1',TOP).attr('y2',BOT);
frame.append('line').attr('x1',AR).attr('x2',AR).attr('y1',TOP).attr('y2',BOT);
frame.append('line').attr('x1',PL).attr('x2',AR).attr('y1',TOP).attr('y2',TOP);
frame.append('line').attr('x1',PL).attr('x2',AR).attr('y1',BOT).attr('y2',BOT);
[P1,P2,P3].forEach(y=>svg.append('line').attr('x1',PL).attr('x2',AR).attr('y1',y).attr('y2',y).attr('stroke',SEP).attr('stroke-width',2));

// ---------- Axes ----------
function rightAxis(sc,vals,clipId){
  const g=svg.append('g').attr('clip-path',clipId?`url(#${clipId})`:null).append('g').attr('transform',`translate(${PR},0)`).call(d3.axisRight(sc).tickValues(vals).tickSize(0).tickPadding(21).tickFormat(d3.format('.2f')));
  g.select('.domain').remove();
  g.selectAll('text').attr('font-size',24).attr('fill','#131722').attr('font-family','Inter,"Noto Sans",sans-serif');
}
rightAxis(yP,priceTickLabels);rightAxis(yM,macdTickLabels,'cpM');rightAxis(yF,flowTicks);
const monthScaleDates=monthDates.map(d=>new Date(d+'T00:00Z'));
const shownMonths=monthScaleDates.filter((d,i)=>i<5||i>7);
const tg=svg.append('g').attr('transform','translate(0,1670)').call(d3.axisBottom(x).tickValues(shownMonths).tickSize(0).tickFormat((d,i)=>monthLabels[i]));
tg.select('.domain').remove();
tg.selectAll('text').attr('y',0).attr('dy','.36em').attr('font-size',24).attr('fill','#131722').attr('font-family','Inter,"Noto Sans",sans-serif');

// ---------- Price-scale labels ----------
const labelG=svg.append('g').attr('clip-path','url(#cpAxis)');
function label(cy,txt,fill,color,w,parent){
  const g=parent||labelG;
  g.append('rect').attr('x',PR-6).attr('y',cy-17).attr('width',w+6).attr('height',34).attr('rx',3).attr('fill',fill);
  g.append('text').attr('x',PR+21).attr('y',cy).attr('dy','.36em').attr('font-size',24).attr('fill',color).text(txt);
}
const W1=146,W2=116,W3=100,W4=86,W5=162;
label(116.9,'30470.47','#9c27b0','#fff',W1);
const grad=defs.append('linearGradient').attr('id','fade').attr('x1',0).attr('y1',0).attr('x2',0).attr('y2',1);
grad.append('stop').attr('offset',0).attr('stop-color','#fff').attr('stop-opacity',.95);
grad.append('stop').attr('offset',1).attr('stop-color','#fff').attr('stop-opacity',0);
labelG.append('rect').attr('x',PR).attr('y',100).attr('width',W1).attr('height',13).attr('fill','url(#fade)');
[[426.6,'18227.05','#673ab7','#fff'],[460.3,'16966.84','#008000','#fff'],[494.5,'16966.84','#00ff00','#000'],[528.8,'16929.61','#008000','#fff'],[562.4,'16929.61','#000000','#fff'],[596.7,'16908.54','#e65100','#fff']]
  .forEach(a=>label(a[0],a[1],a[2],a[3],W1));
labelG.append('rect').attr('x',PR-6).attr('y',614).attr('width',W1+6).attr('height',90).attr('rx',3).attr('fill',DOWN);
[[630.3,'16826.79',1],[658.4,'−43.67%',1],[686.5,'03:10:56',.7]].forEach(a=>labelG.append('text').attr('x',PR+21).attr('y',a[0]).attr('dy','.36em').attr('font-size',24).attr('fill','#fff').attr('fill-opacity',a[2]).text(a[1]));
label(720.7,'16806.22',DOWN,'#fff',W1);
label(754.4,'16454.65','#3cb0e6','#000',W1);
label(788.6,'12889.64','#9c27b0','#fff',W1);
label(852.6,'7.644K','#ef5350','#fff',W2);
label(898.7,'59.38','#ff6d00','#fff',W3);
label(932.7,'11.38','#0098ff','#fff',W3);
label(967,'−48.00','#ef5350','#fff',W2);
const topCut=svg.append('g').attr('clip-path','url(#cpS)');
label(1138,'60.00','#f57c00','#fff',W3,topCut);
label(1171.5,'53.00','#2196f3','#fff',W3);
label(1205.4,'18.44','#e91e63','#fff',W3);
label(1239.8,'5.15','#009688','#fff',W4);
label(1273.3,'0.00','#808080','#fff',W4);
label(1307.7,'−13.29','#0000ff','#fff',W2);
label(1351,'−53.00','#2196f3','#fff',W2);
label(1384.5,'−60.00','#f57c00','#fff',W2);
label(1468,'−14751.79','#bdbdbd','#000',W5);
label(1501.4,'−14751.79',DOWN,'#fff',W5);
svg.append('text').attr('x',PR+21).attr('y',80.4).attr('dy','.36em').attr('font-size',24).attr('fill','#131722').text('USD');

// ---------- Time-axis date labels ----------
svg.append('text').attr('x',1732).attr('y',1669).attr('dy','.36em').attr('text-anchor','middle').attr('font-size',25).attr('fill','#131722').text(':');
[[1431,300,'#afe7dd','Sun 11 Dec \'22   05:00'],[1733,302,'#e1bee7','Mon 16 Jan \'23   19:00']].forEach(a=>{
  svg.append('rect').attr('x',a[0]).attr('y',TB).attr('width',a[1]).attr('height',48).attr('rx',3).attr('fill',a[2]);
  svg.append('text').attr('x',a[0]+a[1]/2).attr('y',1669).attr('dy','.36em').attr('text-anchor','middle').attr('font-size',25).attr('fill','#131722').attr('xml:space','preserve').style('white-space','pre').text(a[3]);
});

// ---------- Title, legend, logo ----------
svg.append('text').attr('x',20).attr('y',32).attr('dy','.36em').attr('font-size',24).attr('fill','#131722').text('elliott77 published on TradingView.com, Dec 07, 2022 11:49 UTC-5');
const legend=[[36,'Bitcoin / U.S. Dollar, 10h, COINBASE, Heikin Ashi','#131722'],[596,'O','#131722'],[614,'16974.20',DOWN],[732,'H','#131722'],[750,'16974.20',DOWN],[868,'L','#131722'],[881,'16767.69',DOWN],[997,'C','#131722'],[1015,'16826.79',DOWN],[1134,'−109.17 (−0.64%)',DOWN]];
legend.forEach(a=>svg.append('text').attr('x',a[0]).attr('y',86).attr('dy','.36em').attr('font-size',24).attr('fill',a[2]).text(a[1]));
const logo=svg.append('g').attr('transform','translate(20,1715.5) scale(1.11)').attr('fill','#131722');
logo.append('path').attr('d','M14 22H7V11H0V4h14v18zM28 22h-8l7.5-18h8L28 22z');
logo.append('circle').attr('cx',20).attr('cy',8).attr('r',4);
svg.append('text').attr('x',67).attr('y',1730).attr('dy','.36em').attr('font-size',24.5).attr('font-weight',500).attr('fill','#131722').text('TradingView');
</script>
</body></html>
